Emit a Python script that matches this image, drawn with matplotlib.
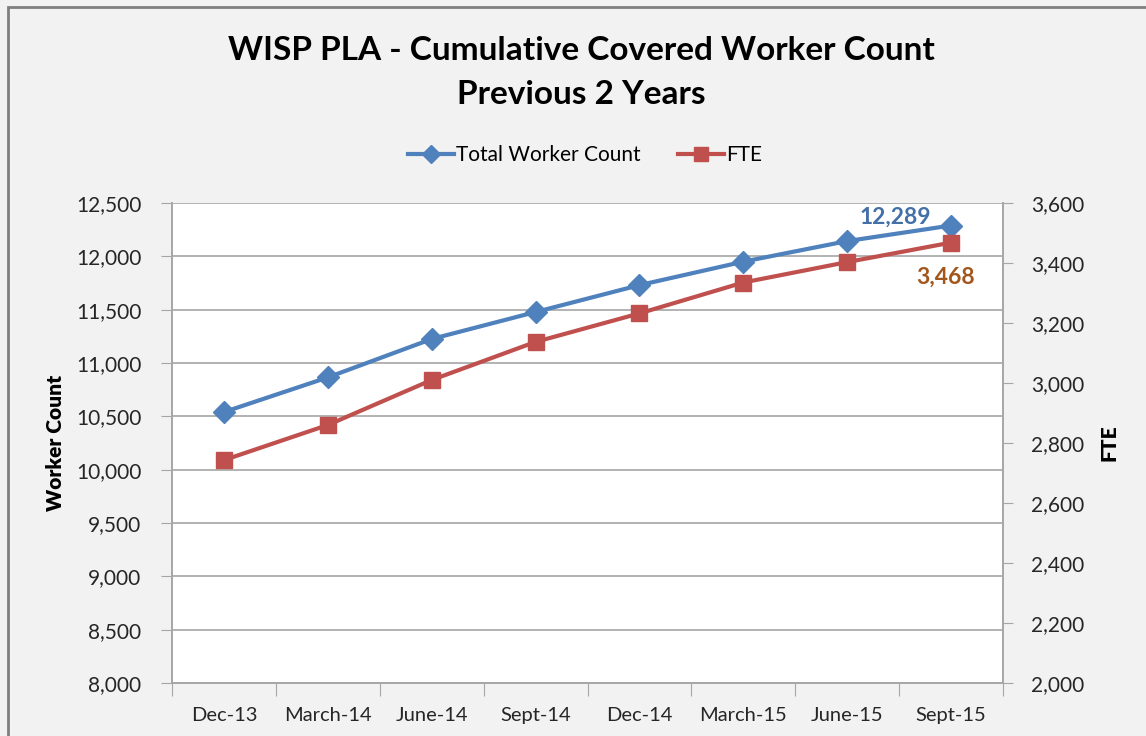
import matplotlib.pyplot as plt
from matplotlib.lines import Line2D
from matplotlib.patches import Rectangle
from matplotlib.ticker import FuncFormatter

plt.rcParams['font.family'] = ['Lato', 'DejaVu Sans']

# data
quarters = ['Dec-13', 'March-14', 'June-14', 'Sept-14', 'Dec-14', 'March-15', 'June-15', 'Sept-15']
total_workers = [10540, 10865, 11225, 11478, 11730, 11950, 12143, 12289]
fte = [2743, 2860, 3010, 3137, 3232, 3335, 3403, 3468]

blue = '#4F81BD'
red = '#C0504D'
grid_col = '#A6A6A6'

fig = plt.figure(figsize=(11.46, 7.36), dpi=100)
fig.patch.set_facecolor('#F2F2F2')
fig.patches.append(Rectangle((8 / 1146, -0.01), 1.05, 1 - 7 / 736 + 0.01, transform=fig.transFigure,
                             fill=False, edgecolor='#7F7F7F', linewidth=2))

ax = fig.add_axes([172 / 1146, 1 - 683 / 736, 831 / 1146, 480 / 736])
ax.set_facecolor('white')
ax2 = ax.twinx()

x = list(range(len(quarters)))
ax.plot(x, total_workers, color=blue, lw=3, marker='D', ms=11, zorder=3)
ax2.plot(x, fte, color=red, lw=3, marker='s', ms=12, zorder=3)

ax.set_xlim(-0.5, 7.5)
ax.set_ylim(8000, 12500)
ax.set_yticks(range(8000, 12501, 500))
ax2.set_ylim(2000, 3600)
ax2.set_yticks(range(2000, 3601, 200))
fmt = FuncFormatter(lambda v, p: f'{int(v):,}')
ax.yaxis.set_major_formatter(fmt)
ax2.yaxis.set_major_formatter(fmt)

ax.set_xticks([i - 0.5 for i in range(len(quarters) + 1)])
ax.set_xticklabels([])
ax.set_xticks(x, minor=True)
ax.set_xticklabels(quarters, minor=True, fontsize=14.5, color='#262626')
ax.tick_params(axis='x', which='major', length=9, color=grid_col, direction='out')
ax.tick_params(axis='x', which='minor', length=0, pad=17)
ax.tick_params(axis='y', length=8, color=grid_col, labelsize=15, labelcolor='#262626', pad=14)
ax2.tick_params(axis='y', length=7, color=grid_col, labelsize=15, labelcolor='#262626', pad=13)

ax.grid(axis='y', color=grid_col, lw=1.2)
ax.set_axisbelow(True)
for a in (ax, ax2):
    a.spines['top'].set_visible(False)
    for s in ('left', 'right', 'bottom'):
        a.spines[s].set_color(grid_col)
        a.spines[s].set_linewidth(1.2)

ax.set_ylabel('Worker Count', fontsize=15, fontweight='heavy', labelpad=8)
ax2.set_ylabel('FTE', fontsize=15, fontweight='heavy', labelpad=11)

ax.annotate(f'{total_workers[-1]:,}', (x[-1], total_workers[-1]), xytext=(-56, 8),
            textcoords='offset pixels', ha='center', va='center', fontsize=16.5,
            fontweight='bold', color='#4470A8')
ax2.annotate(f'{fte[-1]:,}', (x[-1], fte[-1]), xytext=(-6, -35),
             textcoords='offset pixels', ha='center', va='center', fontsize=16.5,
             fontweight='bold', color='#A3561C')

fig.text(581 / 1146, 1 - 50 / 736, 'WISP PLA - Cumulative Covered Worker Count',
         ha='center', va='center', fontsize=24, fontweight='bold')
fig.text(581 / 1146, 1 - 95 / 736, 'Previous 2 Years',
         ha='center', va='center', fontsize=24, fontweight='bold')

handles = [Line2D([], [], color=blue, lw=3, marker='D', ms=9),
           Line2D([], [], color=red, lw=3, marker='s', ms=10)]
fig.legend(handles, ['Total Worker Count', 'FTE'], loc='center', ncol=2,
           bbox_to_anchor=(585 / 1146, 1 - 155 / 736), frameon=False, fontsize=15,
           handlelength=2.2, handletextpad=0.1, columnspacing=1.8)

fig.savefig('out.png', dpi=100, facecolor=fig.get_facecolor())
